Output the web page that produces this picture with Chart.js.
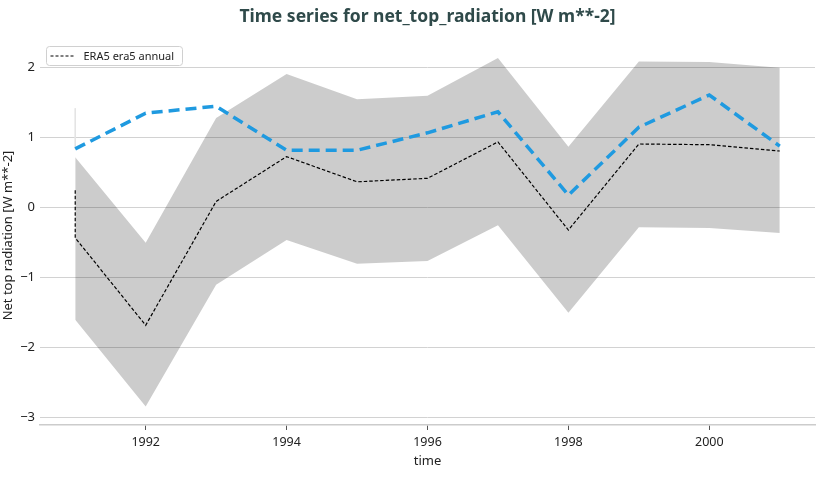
<!DOCTYPE html>
<html>
<head>
<meta charset="utf-8">
<script src="https://cdn.jsdelivr.net/npm/chart.js@4"></script>
<style>
  html, body { margin: 0; padding: 0; background: #fff; }
  #wrap { width: 825px; height: 478px; }
</style>
</head>
<body>
<div id="wrap"><canvas id="chart"></canvas></div>
<script>
// data
const years = [1991, 1992, 1993, 1994, 1995, 1996, 1997, 1998, 1999, 2000, 2001];
const era5Annual = [-0.44, -1.69, 0.08, 0.72, 0.36, 0.41, 0.93, -0.33, 0.90, 0.89, 0.80];
const era5First = 0.24;          // short vertical start at 1991
const ensembleMean = [0.83, 1.34, 1.44, 0.81, 0.81, 1.06, 1.36, 0.17, 1.14, 1.60, 0.87];
const rangeUpper = [0.71, -0.51, 1.27, 1.90, 1.54, 1.59, 2.13, 0.86, 2.08, 2.07, 1.99];
const rangeLower = [-1.61, -2.85, -1.11, -0.47, -0.81, -0.77, -0.26, -1.51, -0.29, -0.30, -0.37];
const markerTop = 1.41;          // faint vertical line at 1991
const xTicks = [1992, 1994, 1996, 1998, 2000];
const yTicks = [-3, -2, -1, 0, 1, 2];

const FONT = "'Noto Sans', 'Open Sans', sans-serif";
const pts = (vals) => vals.map((v, i) => ({ x: years[i], y: v }));

// title over the plot area and legend inside it, like the original
const decor = {
  id: 'decor',
  afterDraw(chart) {
    const ctx = chart.ctx, a = chart.chartArea;
    ctx.save();
    ctx.fillStyle = '#2f4a4a';
    ctx.font = "bold 17.5px " + FONT;
    ctx.textAlign = 'center';
    ctx.textBaseline = 'middle';
    ctx.fillText('Time series for net_top_radiation [W m**-2]', (a.left + a.right) / 2, 17);

    // legend box
    const x0 = a.left + 6.5, y0 = 46.5, w = 136, h = 19;
    ctx.beginPath();
    ctx.roundRect(x0, y0, w, h, 3);
    ctx.fillStyle = 'rgba(255,255,255,0.85)';
    ctx.fill();
    ctx.strokeStyle = '#d0d0d0';
    ctx.lineWidth = 1;
    ctx.stroke();
    ctx.beginPath();
    ctx.setLineDash([3, 2]);
    ctx.strokeStyle = '#000';
    ctx.moveTo(x0 + 4, y0 + h / 2);
    ctx.lineTo(x0 + 28, y0 + h / 2);
    ctx.stroke();
    ctx.setLineDash([]);
    ctx.fillStyle = '#222';
    ctx.font = "11px " + FONT;
    ctx.textAlign = 'left';
    ctx.fillText(chart.data.datasets[1].label, x0 + 37, y0 + h / 2 + 0.5);
    ctx.restore();
  }
};

// Chart.js paints the first dataset on top, so the lines come first
new Chart(document.getElementById('chart'), {
  type: 'line',
  data: {
    datasets: [
      {
        label: 'ensemble mean',
        data: pts(ensembleMean),
        borderColor: '#1f9ae0',
        borderWidth: 3.5,
        borderDash: [11, 6],
        pointRadius: 0
      },
      {
        label: 'ERA5 era5 annual',
        data: [{ x: years[0], y: era5First }].concat(pts(era5Annual)),
        borderColor: '#000',
        borderWidth: 1.2,
        borderDash: [3.5, 2],
        pointRadius: 0
      },
      {
        label: 'range lower',
        data: pts(rangeLower),
        borderWidth: 0,
        pointRadius: 0,
        backgroundColor: 'rgba(0,0,0,0.2)',
        fill: '+1'
      },
      {
        label: 'range upper',
        data: pts(rangeUpper),
        borderWidth: 0,
        pointRadius: 0,
        fill: false
      },
      {
        label: 'marker',
        data: [{ x: years[0], y: markerTop }, { x: years[0], y: ensembleMean[0] }],
        borderColor: '#e4e4e4',
        borderWidth: 1,
        pointRadius: 0
      }
    ]
  },
  options: {
    responsive: true,
    maintainAspectRatio: false,
    animation: false,
    layout: { padding: { top: 46, right: 10, left: 0, bottom: 9 } },
    plugins: {
      legend: { display: false },
      tooltip: { enabled: false }
    },
    scales: {
      x: {
        type: 'linear',
        min: 1990.5,
        max: 2001.5,
        afterBuildTicks: (s) => { s.ticks = xTicks.map(v => ({ value: v })); },
        afterFit: (s) => { s.height = 44; },
        grid: { display: true, drawOnChartArea: false, drawTicks: true, tickLength: 5, color: '#555', lineWidth: 1 },
        border: { display: true, color: '#cccccc', width: 1.5 },
        ticks: {
          color: '#222',
          font: { family: FONT, size: 12.5 },
          padding: 5,
          callback: (v) => String(v)
        },
        title: {
          display: true,
          text: 'time',
          color: '#222',
          font: { family: FONT, size: 13 },
          padding: { top: 0, bottom: 0 }
        }
      },
      y: {
        min: -3.114,
        max: 2.3,
        afterBuildTicks: (s) => { s.ticks = yTicks.map(v => ({ value: v })); },
        afterFit: (s) => { s.width = 40; },
        grid: { color: '#d2d2d2', lineWidth: 1, drawTicks: false },
        border: { display: false },
        ticks: {
          color: '#222',
          font: { family: FONT, size: 13 },
          padding: 5,
          callback: (v) => String(v).replace('-', '\u2212')
        },
        title: {
          display: true,
          text: 'Net top radiation [W m**-2]',
          color: '#222',
          font: { family: FONT, size: 13 },
          padding: { top: 0, bottom: 0 }
        }
      }
    }
  },
  plugins: [decor]
});
</script>
</body>
</html>
